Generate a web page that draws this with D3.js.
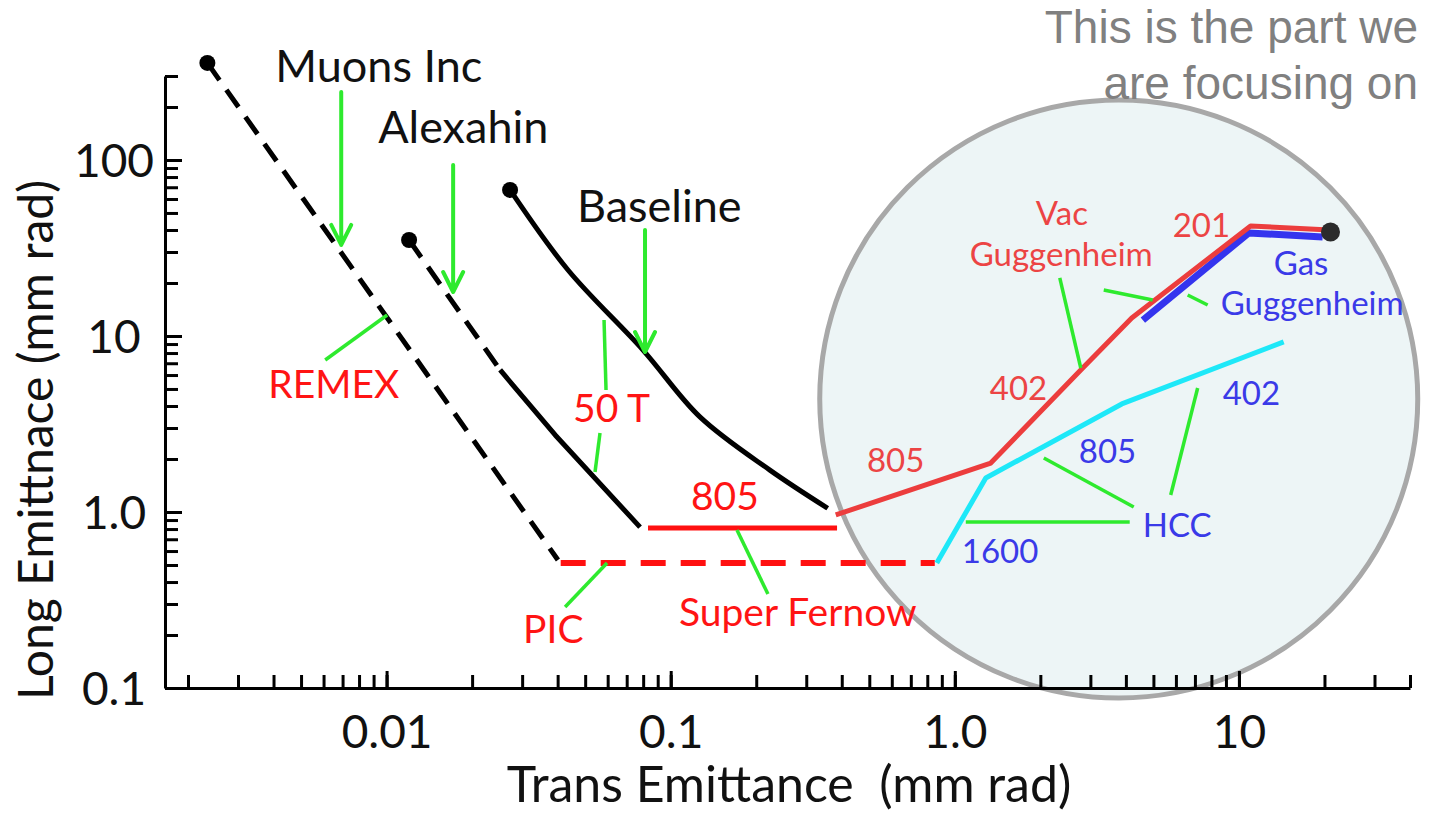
<!DOCTYPE html>
<html>
<head>
<meta charset="utf-8">
<script src="https://cdn.jsdelivr.net/npm/d3@7"></script>
<style>
  body { margin: 0; background: #fff; }
  svg { display: block; font-family: Lato, 'Open Sans', sans-serif; }
  .axis path, .axis line { stroke: #000; stroke-width: 3; }
  .axis text { font-family: Lato, sans-serif; font-size: 46px; fill: #111; }
</style>
</head>
<body>
<svg class="chart" width="1431" height="813"></svg>
<script>
"use strict";

// tick labels
var xMajor = [0.01, 0.1, 1, 10];
var xMajorLabels = ['0.01', '0.1', '1.0', '10'];
var yMajor = [0.1, 1, 10, 100];
var yMajorLabels = ['0.1', '1.0', '10', '100'];

// series: [trans emittance, long emittance] in mm rad
var muonsInc = [[0.00234, 356], [0.0401, 0.534]];
var alexahinDashed = [[0.0120, 35.1], [0.0251, 6.41]];
var alexahinSolid = [[0.0251, 6.41], [0.0392, 2.74], [0.078, 0.82]];
var baseline = [[0.0272, 67.6], [0.0435, 23.7], [0.0799, 8.32], [0.1267, 3.47], [0.2234, 1.73], [0.357, 1.05]];
var superFernow805 = [[0.0832, 0.81], [0.385, 0.81]];
var pic = [[0.041, 0.513], [0.85, 0.513]];
var vacGuggenheim = [[0.381, 0.962], [1.338, 1.898], [2.775, 6.41], [4.195, 12.65], [10.99, 42.2], [20.84, 40.0]];
var gasGuggenheim = [[4.59, 12.3], [10.82, 38.5], [19.7, 36.5]];
var hcc = [[0.864, 0.513], [1.285, 1.56], [3.87, 4.11], [14.37, 9.25]];
var endDots = [[0.00234, 356], [0.0120, 35.1], [0.0272, 67.6]];
var finalDot = [[21, 39]];

// annotations (placed in data units, text starts at x)
var blackLabels = ['Muons Inc', 'Alexahin', 'Baseline'];
var blackLabelAt = [[0.00406, 277], [0.00934, 125], [0.0468, 44.4]];
var redLabels = ['REMEX', '50 T', '805', 'Super Fernow', 'PIC'];
var redLabelAt = [[0.003835, 4.444], [0.04532, 3.246], [0.1178, 1.0265], [0.1069, 0.225], [0.03023, 0.1802]];
var zoomRedLabels = ['Vac', 'Guggenheim', '201', '402', '805'];
var zoomRedLabelAt = [[1.928, 42.7], [1.129, 24.99], [5.847, 36.5], [1.3275, 4.329], [0.4903, 1.688]];
var zoomBlueLabels = ['Gas', 'Guggenheim', '402', '805', 'HCC', '1600'];
var zoomBlueLabelAt = [[13.25, 22.2], [8.624, 13.16], [8.766, 4.055], [2.731, 1.898], [4.584, 0.7211], [1.0584, 0.5132]];

var arrows = [[0.006924, 243.4, 32.9], [0.01715, 93.7, 17.78], [0.08121, 40.0, 8.11]];
var leaders = [
  [[0.006081, 7.305], [0.01005, 13.16]],
  [[0.05826, 12.33], [0.05921, 4.934]],
  [[0.05639, 2.811], [0.05416, 1.688]],
  [[0.04249, 0.2885], [0.0597, 0.5132]],
  [[0.1711, 0.7901], [0.2199, 0.342]],
  [[2.341, 21.36], [2.775, 6.58]],
  [[3.343, 18.25], [4.971, 16.02]],
  [[6.6, 17.1], [7.761, 15.0]],
  [[7.157, 5.064], [5.752, 1.249]],
  [[2.057, 2.027], [4.263, 1.067]],
  [[1.093, 0.8774], [4.126, 0.8774]]
];
var focusCentre = [3.775, 4.385];
var noteLines = ['This is the part we', 'are focusing on'];

var svg = d3.select('.chart');

var x = d3.scaleLog().domain([0.00166, 40]).range([165, 1410]);
var y = d3.scaleLog().domain([0.1, 300]).range([688, 76]);

var line = d3.line()
  .x(function (d) { return x(d[0]); })
  .y(function (d) { return y(d[1]); });

// magnifier circle
svg.append('circle')
  .attr('cx', x(focusCentre[0]))
  .attr('cy', y(focusCentre[1]))
  .attr('r', 299)
  .style('fill', '#edf5f6')
  .style('stroke', '#a8a8a8')
  .style('stroke-width', 5);

// axes: minor ticks, then majors with labels
var yMinor = svg.append('g').attr('class', 'axis')
  .attr('transform', 'translate(165,0)')
  .call(d3.axisLeft(y).ticks(10).tickSize(-13).tickSizeOuter(0).tickFormat(''));
var yAxis = svg.append('g').attr('class', 'axis')
  .attr('transform', 'translate(165,0)')
  .call(d3.axisLeft(y).tickValues(yMajor).tickSize(-17).tickSizeOuter(0)
    .tickFormat(function (d, i) { return yMajorLabels[i]; }));
yAxis.selectAll('text')
  .attr('x', -51).attr('dy', '0.36em').attr('text-anchor', 'middle');

var xMinor = svg.append('g').attr('class', 'axis')
  .attr('transform', 'translate(0,688)')
  .call(d3.axisBottom(x).ticks(10).tickSize(-13).tickSizeOuter(0).tickFormat(''));
var xAxis = svg.append('g').attr('class', 'axis')
  .attr('transform', 'translate(0,688)')
  .call(d3.axisBottom(x).tickValues(xMajor).tickSize(-17).tickSizeOuter(0)
    .tickFormat(function (d, i) { return xMajorLabels[i]; }));
xAxis.selectAll('text').attr('y', 60).attr('dy', 0);
yMinor.select('.domain').remove();
xMinor.select('.domain').remove();

svg.append('text')
  .attr('x', 789).attr('y', 802)
  .attr('text-anchor', 'middle')
  .style('font-size', '50px').style('fill', '#111').style('white-space', 'pre')
  .text('Trans Emittance  (mm rad)');

svg.append('text')
  .attr('transform', 'translate(53,440) rotate(-90)')
  .attr('text-anchor', 'middle')
  .style('font-size', '48px').style('fill', '#111')
  .text('Long Emittnace (mm rad)');

// curves
function drawLine(data, colour, width, dash, curve) {
  svg.append('path')
    .datum(data)
    .attr('d', line.curve(curve || d3.curveLinear))
    .style('fill', 'none')
    .style('stroke', colour)
    .style('stroke-width', width)
    .style('stroke-dasharray', dash || null)
    .style('stroke-linejoin', 'round');
}

drawLine(muonsInc, '#000', 5, '21,12');
drawLine(alexahinDashed, '#000', 5, '21,12');
drawLine(alexahinSolid, '#000', 5);
drawLine(baseline, '#000', 5, null, d3.curveCatmullRom);
drawLine(superFernow805, '#ff1010', 5);
drawLine(pic, '#ff1010', 6, '25,15');
drawLine(hcc, '#1ee8f8', 5);
drawLine(gasGuggenheim, '#3434ee', 7);
drawLine(vacGuggenheim, '#ec3d3d', 5);

svg.selectAll('.dot')
  .data(endDots)
  .enter()
  .append('circle')
    .attr('class', 'dot')
    .attr('cx', function (d) { return x(d[0]); })
    .attr('cy', function (d) { return y(d[1]); })
    .attr('r', 8)
    .style('fill', '#000');
svg.selectAll('.end')
  .data(finalDot)
  .enter()
  .append('circle')
    .attr('class', 'end')
    .attr('cx', function (d) { return x(d[0]); })
    .attr('cy', function (d) { return y(d[1]); })
    .attr('r', 9.5)
    .style('fill', '#2b2b2b');

// green arrows and leaders
var green = '#2eea2e';
arrows.forEach(function (a) {
  var ax = x(a[0]), top = y(a[1]), tip = y(a[2]);
  svg.append('path')
    .attr('d', 'M' + ax + ',' + top + 'V' + tip + 'M' + (ax - 10) + ',' + (tip - 20) + 'L' + ax + ',' + tip + 'L' + (ax + 10) + ',' + (tip - 20))
    .style('fill', 'none').style('stroke', green).style('stroke-width', 4)
    .style('stroke-linejoin', 'round').style('stroke-linecap', 'round');
});
leaders.forEach(function (l) {
  drawLine(l, green, 3.5);
});

// labels
function drawLabels(texts, at, colour, size) {
  texts.forEach(function (t, i) {
    svg.append('text')
      .attr('x', x(at[i][0]))
      .attr('y', y(at[i][1]))
      .style('font-size', size + 'px')
      .style('fill', colour)
      .text(t);
  });
}
drawLabels(blackLabels, blackLabelAt, '#111', 45);
drawLabels(redLabels, redLabelAt, '#ff1414', 39);
drawLabels(zoomRedLabels, zoomRedLabelAt, '#ec4444', 33);
drawLabels(zoomBlueLabels, zoomBlueLabelAt, '#3a3ae8', 33);

svg.selectAll('.note')
  .data(noteLines)
  .enter()
  .append('text')
    .attr('class', 'note')
    .attr('x', 1418)
    .attr('y', function (d, i) { return 43 + i * 56; })
    .attr('text-anchor', 'end')
    .style('font-family', "'Liberation Sans', Arial, sans-serif")
    .style('font-size', '46px')
    .style('fill', '#808080')
    .text(function (d) { return d; });
</script>
</body>
</html>
